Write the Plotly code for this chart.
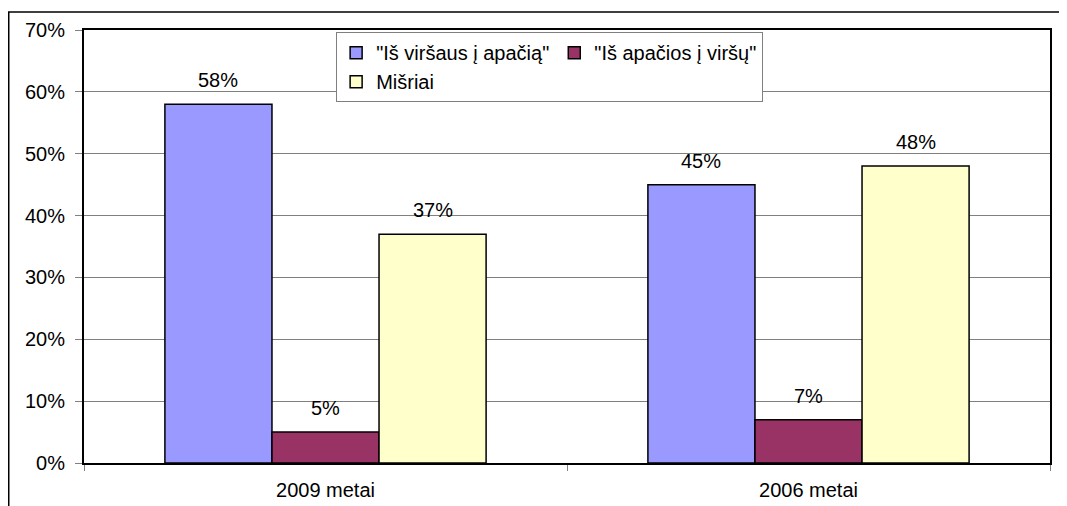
import plotly.graph_objects as go

categories = ["2009 metai", "2006 metai"]
series_names = ['"Iš viršaus į apačią"', '"Iš apačios į viršų"', "Mišriai"]
top_down = [0.58, 0.45]
bottom_up = [0.05, 0.07]
mixed = [0.37, 0.48]
y_ticks = [0, 0.1, 0.2, 0.3, 0.4, 0.5, 0.6, 0.7]

colors = ["#9999FF", "#993366", "#FFFFCC"]
groups = ["a", "b", "a"]
values = [top_down, bottom_up, mixed]

FONT = "Liberation Sans, Arial, sans-serif"
FS = 20

W, H = 1059, 498
ML, MR, MT, MB = 76, 17, 22, 43
BARGAP = 0.335

fig = go.Figure()
for name, vals, col, grp in zip(series_names, values, colors, groups):
    fig.add_trace(go.Bar(
        x=categories, y=vals, name=name, legendgroup=grp,
        marker=dict(color=col, line=dict(color="black", width=1.5)),
    ))

# value labels above the bars, offset within each group from the bar geometry
plot_w = W - ML - MR
cat_w = plot_w / len(categories)
bar_w = cat_w * (1 - BARGAP) / len(values)
annotations = []
for k, vals in enumerate(values):
    shift = (k - (len(values) - 1) / 2) * bar_w
    for cat, v in zip(categories, vals):
        annotations.append(dict(
            x=cat, y=v, xref="x", yref="y", text=f"{round(v*100)}%",
            showarrow=False, xanchor="center", yanchor="bottom",
            xshift=shift, yshift=11,
            font=dict(family=FONT, size=FS, color="black"),
        ))

fig.update_layout(
    width=W, height=H,
    margin=dict(l=ML, r=MR, t=MT, b=MB, autoexpand=False),
    paper_bgcolor="white", plot_bgcolor="white",
    barmode="group", bargap=BARGAP, bargroupgap=0,
    font=dict(family=FONT, size=FS, color="black"),
    legend=dict(
        orientation="h", traceorder="grouped",
        x=0.261, y=0.995, xanchor="left", yanchor="top",
        bgcolor="white", bordercolor="#808080", borderwidth=1,
        font=dict(family=FONT, size=FS, color="black"),
        tracegroupgap=0, itemwidth=30,
    ),
    xaxis=dict(
        automargin=False,
        showline=True, mirror=True, linecolor="black", linewidth=2,
        ticks="outside", tickson="boundaries", ticklen=6, tickcolor="#808080",
        ticklabelstandoff=8,
        tickfont=dict(family=FONT, size=FS, color="black"),
    ),
    yaxis=dict(
        automargin=False,
        range=[0, 0.7], tickvals=y_ticks, tickformat=".0%",
        showline=True, mirror=True, linecolor="black", linewidth=2,
        showgrid=True, gridcolor="#808080", gridwidth=1,
        ticks="outside", ticklen=7, tickcolor="#808080",
        ticklabelstandoff=6, zeroline=False,
        tickfont=dict(family=FONT, size=FS, color="black"),
    ),
    annotations=annotations,
    shapes=[dict(
        type="rect", xref="paper", yref="paper",
        x0=-0.0779, x1=1.2, y0=-0.3, y1=1.0416,
        line=dict(color="black", width=1.5), layer="below",
    )],
)

fig.write_html("out.html")
